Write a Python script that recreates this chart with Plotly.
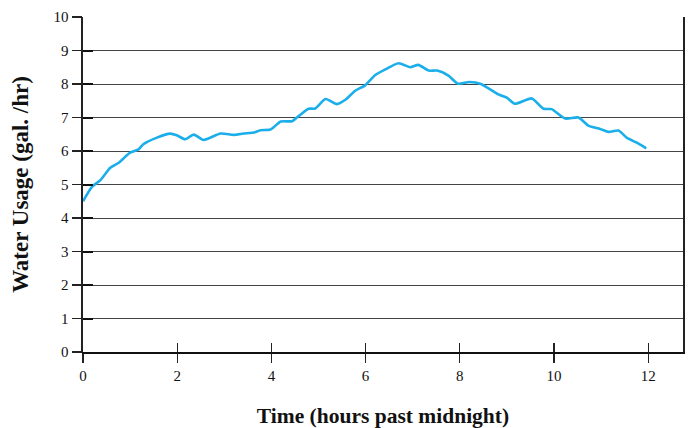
import plotly.graph_objects as go

hours = [0.0, 0.19, 0.37, 0.58, 0.76, 1.0, 1.18, 1.28, 1.57, 1.85, 1.99, 2.17, 2.35, 2.56,
         2.92, 3.2, 3.41, 3.62, 3.77, 3.98, 4.2, 4.44, 4.58, 4.79, 4.93, 5.15, 5.39, 5.57,
         5.78, 5.99, 6.2, 6.41, 6.7, 6.95, 7.12, 7.34, 7.52, 7.76, 7.96, 8.2, 8.45, 8.82,
         9.0, 9.17, 9.53, 9.78, 9.95, 10.24, 10.52, 10.73, 10.98, 11.16, 11.37, 11.55,
         11.76, 11.96]
usage = [4.5, 4.93, 5.13, 5.5, 5.65, 5.95, 6.05, 6.2, 6.4, 6.52, 6.47, 6.35, 6.49, 6.33,
         6.52, 6.48, 6.52, 6.55, 6.62, 6.64, 6.88, 6.89, 7.04, 7.26, 7.27, 7.55, 7.4, 7.53,
         7.8, 7.96, 8.26, 8.43, 8.62, 8.5, 8.57, 8.4, 8.4, 8.25, 8.01, 8.06, 8.0, 7.69,
         7.59, 7.41, 7.57, 7.26, 7.25, 6.97, 7.0, 6.76, 6.66, 6.57, 6.61, 6.39, 6.25, 6.08]

x_ticks = [0, 2, 4, 6, 8, 10, 12]
y_ticks = list(range(0, 11))

font_family = "Liberation Serif, Times New Roman, serif"
x_range = [0, 12.74]

fig = go.Figure()
fig.add_trace(go.Scatter(x=hours, y=usage, mode="lines",
                         line=dict(color="#1aaeea", width=2.6, shape="spline", smoothing=0.6),
                         hoverinfo="skip", showlegend=False))
# invisible trace for the inside-tick overlay axes
fig.add_trace(go.Scatter(x=[None], y=[None], xaxis="x2", yaxis="y2", showlegend=False))

fig.update_layout(
    width=688, height=428,
    margin=dict(l=83, r=5, t=17, b=76),
    paper_bgcolor="white", plot_bgcolor="white",
    font=dict(family=font_family, size=15, color="#111"),
    xaxis=dict(range=x_range, tickvals=x_ticks, ticktext=[str(v) for v in x_ticks],
               ticks="outside", ticklen=9, tickwidth=1.2, tickcolor="#222",
               showline=True, linecolor="#111", linewidth=1.5, mirror=False,
               showgrid=False, zeroline=False, automargin=False,
               title=dict(text="<b>Time (hours past midnight)</b>",
                          font=dict(size=21.5, family=font_family), standoff=25)),
    yaxis=dict(range=[0, 10], tickvals=y_ticks, ticktext=[str(v) for v in y_ticks],
               ticks="outside", ticklen=10, tickwidth=1.2, tickcolor="#222",
               showline=True, linecolor="#111", linewidth=1.5, mirror=False,
               showgrid=True, gridcolor="#444", gridwidth=1, zeroline=False,
               automargin=False,
               title=dict(text="<b>Water Usage (gal. /hr)</b>",
                          font=dict(size=23, family=font_family), standoff=18)),
    xaxis2=dict(overlaying="x", range=x_range, tickvals=x_ticks, showticklabels=False,
                ticks="inside", ticklen=9, tickwidth=1.2, tickcolor="#222", side="bottom",
                showgrid=False, zeroline=False, showline=False, automargin=False),
    yaxis2=dict(overlaying="y", range=[0, 10], tickvals=y_ticks, showticklabels=False,
                ticks="inside", ticklen=10, tickwidth=2, tickcolor="#111", side="left",
                showgrid=False, zeroline=False, showline=True, mirror=True,
                linecolor="#222", linewidth=2, automargin=False),
)

fig.write_html("out.html", config={"displayModeBar": False, "staticPlot": True})

# remove the browser's default body margin so the figure sits at the page origin
with open("out.html", encoding="utf-8") as f:
    html = f.read()
html = html.replace("<body>", '<body style="margin:0;padding:0;overflow:hidden">', 1)
with open("out.html", "w", encoding="utf-8") as f:
    f.write(html)
